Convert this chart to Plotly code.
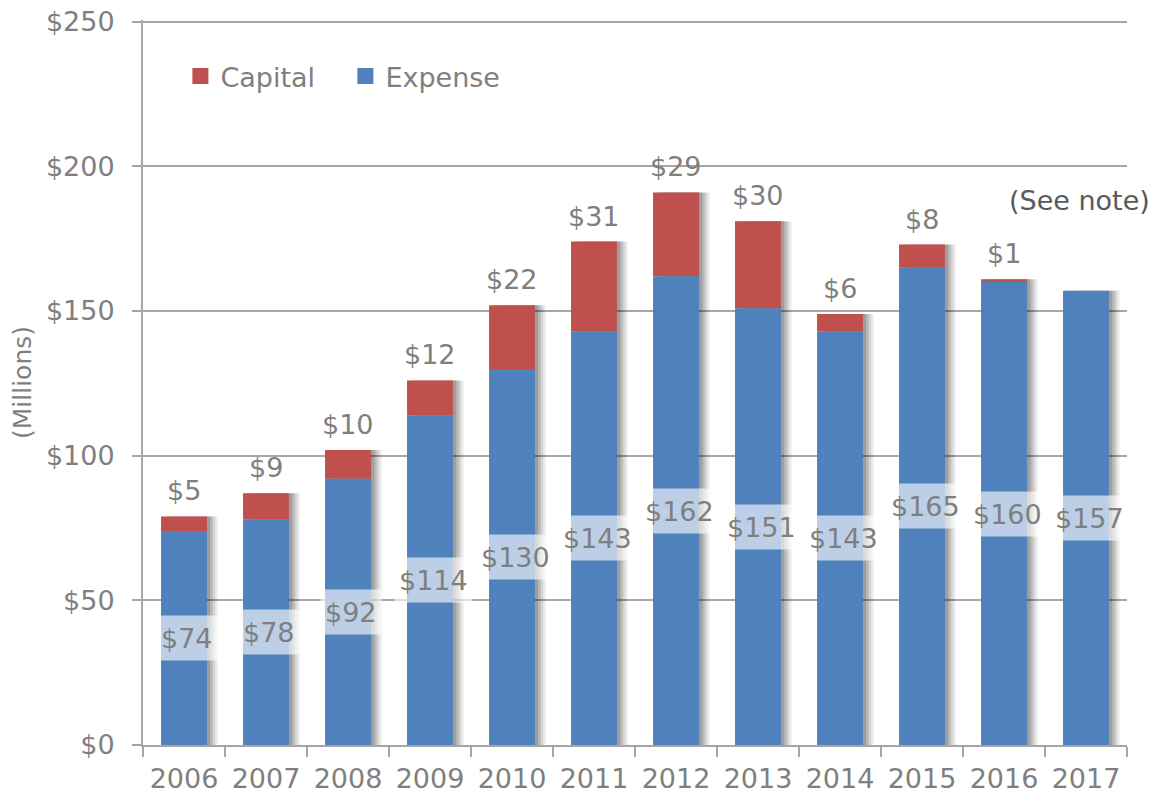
import plotly.graph_objects as go

years = ["2006", "2007", "2008", "2009", "2010", "2011", "2012", "2013", "2014", "2015", "2016", "2017"]
expense = [74, 78, 92, 114, 130, 143, 162, 151, 143, 165, 160, 157]
capital = [5, 9, 10, 12, 22, 31, 29, 30, 6, 8, 1, -0.3]
capital_labels = ["$5", "$9", "$10", "$12", "$22", "$31", "$29", "$30", "$6", "$8", "$1", ""]
expense_labels = ["$" + str(v) for v in expense]
y_ticks = [0, 50, 100, 150, 200, 250]
y_tick_text = ["$0", "$50", "$100", "$150", "$200", "$250"]

FONT = "DejaVu Sans"
GRAY = "#7F7F7F"
BLUE = "#4F81BD"
RED = "#C0504D"
W = 0.56
FS = 27

totals = [e + max(c, 0) for e, c in zip(expense, capital)]
capital_base = [e if c >= 0 else 0 for e, c in zip(expense, capital)]
xi = list(range(len(years)))

fig = go.Figure()
# drop shadows
for dx, op in [(0.13, 0.08), (0.10, 0.10), (0.07, 0.12), (0.04, 0.14)]:
    fig.add_trace(go.Bar(x=xi, y=totals, base=0, width=W, offset=-W / 2 + dx,
                         marker=dict(color=f"rgba(0,0,0,{op})", line=dict(width=0)),
                         showlegend=False, hoverinfo="skip"))
fig.add_trace(go.Bar(x=xi, y=capital, base=capital_base, width=W, offset=-W / 2,
                     name="Capital", marker=dict(color=RED, line=dict(width=0)), showlegend=False))
fig.add_trace(go.Bar(x=xi, y=expense, base=0, width=W, offset=-W / 2,
                     name="Expense", marker=dict(color=BLUE, line=dict(width=0)), showlegend=False))
# legend entries
fig.add_trace(go.Scatter(x=[None], y=[None], mode="markers", name="Capital",
                         marker=dict(symbol="square", size=16, color=RED)))
fig.add_trace(go.Scatter(x=[None], y=[None], mode="markers", name="Expense",
                         marker=dict(symbol="square", size=16, color=BLUE)))

annotations = []
for i, e, lab in zip(xi, expense, expense_labels):
    annotations.append(dict(x=i, y=e / 2, xref="x", yref="y", text=lab, showarrow=False,
                            font=dict(family=FONT, size=FS, color=GRAY), height=36,
                            bgcolor="rgba(255,255,255,0.62)", borderpad=4, xshift=3))
for i, t, lab in zip(xi, totals, capital_labels):
    if lab:
        annotations.append(dict(x=i, y=t, xref="x", yref="y", text=lab, showarrow=False,
                                yanchor="bottom", yshift=8,
                                font=dict(family=FONT, size=FS, color=GRAY)))
annotations.append(dict(x=1.0254, y=0.7517, xref="paper", yref="paper", text="(See note)", showarrow=False,
                        xanchor="right", yanchor="middle",
                        font=dict(family=FONT, size=27, color="#595959")))

fig.update_layout(
    width=1162, height=801,
    margin=dict(l=143, r=35, t=20, b=56, autoexpand=False),
    paper_bgcolor="white", plot_bgcolor="white",
    barmode="overlay",
    font=dict(family=FONT, color=GRAY),
    showlegend=True,
    legend=dict(orientation="h", x=0.038, y=0.922, xanchor="left", yanchor="middle",
                font=dict(family=FONT, size=FS, color=GRAY), traceorder="normal",
                entrywidth=120, entrywidthmode="pixels",
                bgcolor="rgba(0,0,0,0)"),
    annotations=annotations,
)
fig.update_xaxes(range=[-0.5, len(years) - 0.5], tickvals=xi, ticktext=years, automargin=False,
                 showline=True, linecolor="#A6A6A6", linewidth=2,
                 ticks="", showgrid=False, zeroline=False,
                 tickfont=dict(family=FONT, size=FS, color=GRAY), ticklabelstandoff=9)
# boundary tick marks
fig.update_xaxes(minor=dict(tickvals=[i - 0.5 for i in range(len(years) + 1)], ticks="outside",
                            ticklen=10, tickcolor="#A6A6A6", tickwidth=2, showgrid=False))
fig.update_yaxes(range=[0, 250.6], tickvals=y_ticks, ticktext=y_tick_text, automargin=False,
                 showline=True, linecolor="#A6A6A6", linewidth=2,
                 ticks="outside", ticklen=9, tickcolor="#A6A6A6", tickwidth=2,
                 showgrid=True, gridcolor="#A6A6A6", gridwidth=2, zeroline=False,
                 tickfont=dict(family=FONT, size=FS, color=GRAY), ticklabelstandoff=12,
                 title=dict(text="(Millions)", font=dict(family=FONT, size=25, color=GRAY), standoff=7))

fig.write_html("out.html", config={"displayModeBar": False},
               post_script="document.body.style.margin='0';document.body.style.overflow='hidden';")
